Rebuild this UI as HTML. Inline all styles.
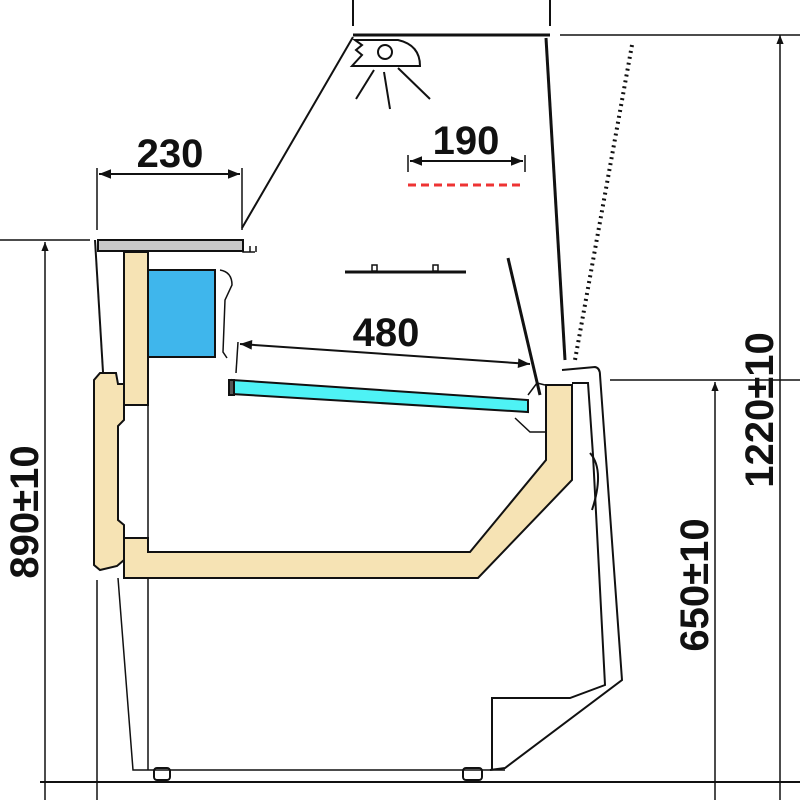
<!DOCTYPE html>
<html><head><style>html,body{margin:0;padding:0;background:#fff}svg{display:block}</style></head>
<body>
<svg width="800" height="800" viewBox="0 0 800 800" xmlns="http://www.w3.org/2000/svg" font-family="Liberation Sans, sans-serif" stroke="#111" fill="none" stroke-width="2">
<defs><marker id="a" viewBox="0 0 10 10" refX="10" refY="5" markerWidth="9" markerHeight="6" orient="auto-start-reverse"><path d="M0,1 L10,5 L0,9z" fill="#111" stroke="none"/></marker></defs>
<line x1="353" y1="0" x2="353" y2="26"/><line x1="550" y1="0" x2="550" y2="26"/>
<line x1="353" y1="35" x2="550" y2="35" stroke-width="3"/>
<line x1="560" y1="35" x2="800" y2="35" stroke-width="1.5"/>
<path d="M355,40 L362,45 L356,50 L362,55 L352,66 L420,66 Q420,45 398,40 Z"/>
<circle cx="385" cy="52" r="7"/>
<line x1="374" y1="70" x2="356" y2="99"/><line x1="384" y1="72" x2="390" y2="109"/><line x1="398" y1="68" x2="430" y2="99"/>
<line x1="353" y1="37" x2="242" y2="228"/>
<line x1="546" y1="38" x2="565" y2="360" stroke-width="3"/>
<line x1="632" y1="45" x2="575" y2="360" stroke-width="4" stroke-dasharray="2,4"/>
<line x1="97" y1="168" x2="97" y2="230" stroke-width="1.5"/><line x1="242" y1="168" x2="242" y2="230" stroke-width="1.5"/>
<line x1="99" y1="174" x2="240" y2="174" marker-start="url(#a)" marker-end="url(#a)"/>
<text x="170" y="167" font-size="40" font-weight="bold" fill="#111" stroke="none" text-anchor="middle">230</text>
<line x1="408" y1="155" x2="408" y2="172" stroke-width="1.5"/><line x1="525" y1="155" x2="525" y2="172" stroke-width="1.5"/>
<line x1="410" y1="161" x2="523" y2="161" marker-start="url(#a)" marker-end="url(#a)"/>
<text x="466" y="154" font-size="40" font-weight="bold" fill="#111" stroke="none" text-anchor="middle">190</text>
<path d="M408,185 L524,185" stroke="#e33" stroke-dasharray="8,5" stroke-width="3"/>
<line x1="345" y1="272" x2="466" y2="272" stroke-width="3"/>
<rect x="372" y="265" width="5" height="6" stroke-width="1.5"/><rect x="433" y="265" width="5" height="6" stroke-width="1.5"/>
<rect x="98" y="240" width="145" height="11" fill="#c8c8c8" stroke-width="2"/>
<path d="M243,243 L243,252 L255,252 M250,252 L250,246 M256,252 L256,246" stroke-width="1.5"/>
<line x1="0" y1="240" x2="90" y2="240" stroke-width="1.5"/>
<path d="M95,240 L103,372"/>
<rect x="124" y="252" width="24" height="153" fill="#f6e3b4"/>
<rect x="148" y="270" width="67" height="87" fill="#3fb6ec"/>
<path d="M220,270 Q232,272 232,285 L225,300 L223,352 L227,358" stroke-width="1.5"/>
<path d="M100,373 L116,373 L118,384 L124,384 L124,420 L118,426 L118,520 L124,525 L124,560 L117,566 L100,570 L94,565 L94,380 Z" fill="#f6e3b4"/>
<path d="M124,538 L148,538 L148,552 L470,552 L546,460 L546,385 L572,385 L572,480 L478,578 L124,578 Z" fill="#f6e3b4"/>
<line x1="148" y1="405" x2="148" y2="538" stroke-width="1.5"/>
<line x1="148" y1="578" x2="148" y2="770" stroke-width="1.5"/>
<path d="M118,578 L133,770 L505,770" stroke-width="1.5"/>
<line x1="97" y1="580" x2="97" y2="800" stroke-width="1.5"/>
<path d="M232,380 L528,400 L528,412 L232,394 Z" fill="#4ef2f5"/>
<rect x="229" y="380" width="5" height="15" fill="#555"/>
<line x1="238" y1="342" x2="236" y2="373" stroke-width="1.5"/>
<line x1="240" y1="344" x2="530" y2="364" marker-start="url(#a)" marker-end="url(#a)"/>
<text x="386" y="346" font-size="40" font-weight="bold" fill="#111" stroke="none" text-anchor="middle">480</text>
<line x1="508" y1="258" x2="540" y2="395" stroke-width="3"/>
<path d="M528,395 L537,383 L545,385 M515,418 L530,432 L546,432" stroke-width="1.5"/>
<path d="M562,370 L595,367 Q600,368 600,375 L622,680 L505,768 L490,770" stroke-width="2"/>
<path d="M572,383 L588,383 L593,455 L605,685 L570,698 L492,698 L492,770" stroke-width="2"/>
<path d="M590,453 Q605,470 592,510"/>
<rect x="154" y="768" width="16" height="12" rx="3"/><rect x="463" y="768" width="19" height="12" rx="3"/>
<line x1="40" y1="782" x2="800" y2="782" stroke-width="2"/>
<line x1="780" y1="35" x2="780" y2="800" stroke-width="1.5" marker-start="url(#a)"/>
<line x1="45" y1="242" x2="45" y2="800" stroke-width="1.5" marker-start="url(#a)"/>
<line x1="715" y1="382" x2="715" y2="800" stroke-width="1.5" marker-start="url(#a)"/>
<line x1="610" y1="380" x2="800" y2="380" stroke-width="1.5"/>
<text transform="translate(773,410) rotate(-90)" font-size="40" font-weight="bold" fill="#111" stroke="none" text-anchor="middle">1220±10</text>
<text transform="translate(708,585) rotate(-90)" font-size="40" font-weight="bold" fill="#111" stroke="none" text-anchor="middle">650±10</text>
<text transform="translate(38,512) rotate(-90)" font-size="40" font-weight="bold" fill="#111" stroke="none" text-anchor="middle">890±10</text>
</svg>
</body></html>
